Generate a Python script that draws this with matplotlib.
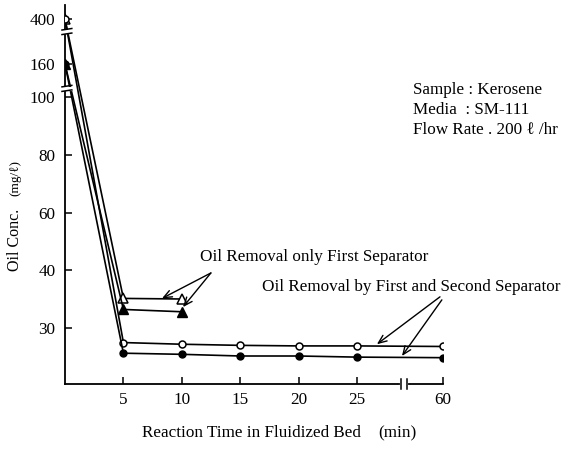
import matplotlib
matplotlib.use("Agg")
import matplotlib.pyplot as plt
import numpy as np

plt.rcParams["font.family"] = ["Liberation Serif", "DejaVu Serif", "DejaVu Sans"]

# reaction time (min)
time = [0, 5, 10, 15, 20, 25, 60]
time_first = [0, 5, 10]

# oil concentration (mg/l)
open_tri = [400, 35.1, 35.0]
solid_tri = [160, 33.2, 32.8]
open_circ = [400, 27.4, 27.1, 26.9, 26.8, 26.8, 26.7]
solid_circ = [160, 25.5, 25.3, 25.0, 25.0, 24.8, 24.7]

y_ticks = [30, 40, 60, 80, 100, 160, 400]
x_ticks = [5, 10, 15, 20, 25, 60]

# broken axes drawn as piecewise linear scales (knot -> pixel offset)
y_knots = [20, 30, 40, 60, 80, 100, 160, 400, 470]
y_pix = [0, 56, 114, 171, 229, 287, 320, 365, 379]
x_knots = [0, 25, 60]
x_pix = [0, 292, 378]


def piecewise(knots, pix):
    k = np.asarray(knots, float)
    p = np.asarray(pix, float)

    def make(a, b):
        def f(v):
            v = np.asarray(v, float)
            out = np.interp(v, a, b)
            out = np.where(v < a[0], b[0] + (v - a[0]) * (b[1] - b[0]) / (a[1] - a[0]), out)
            out = np.where(v > a[-1], b[-1] + (v - a[-1]) * (b[-1] - b[-2]) / (a[-1] - a[-2]), out)
            return out
        return f

    return make(k, p), make(p, k)


W, H = 566, 450
fs = 12.3
fig = plt.figure(figsize=(W / 100, H / 100), dpi=100)
ax = fig.add_axes([65 / W, (H - 384) / H, 378 / W, 379 / H])

ax.set_xscale("function", functions=piecewise(x_knots, x_pix))
ax.set_yscale("function", functions=piecewise(y_knots, y_pix))
ax.set_xlim(0, 60)
ax.set_ylim(20, 470)

lw = 1.2
ax.plot(time_first, open_tri, "-^", color="k", lw=lw, ms=6.5, mfc="white", mec="k", mew=1.1, zorder=3)
ax.plot(time_first, solid_tri, "-^", color="k", lw=lw, ms=6.5, mfc="k", mec="k", zorder=3)
ax.plot(time, open_circ, "-o", color="k", lw=lw, ms=5, mfc="white", mec="k", mew=1.1, zorder=4)
ax.plot(time, solid_circ, "-o", color="k", lw=lw, ms=5, mfc="k", mec="k", zorder=4)

for s in ["top", "right"]:
    ax.spines[s].set_visible(False)
for s in ["left", "bottom"]:
    ax.spines[s].set_linewidth(1.3)

ax.set_yticks(y_ticks)
ax.set_yticklabels([str(v) for v in y_ticks])
ax.set_xticks(x_ticks)
ax.set_xticklabels([str(v) for v in x_ticks])
ax.minorticks_off()
ax.tick_params(direction="in", length=5, width=1.1, labelsize=fs)
ax.tick_params(axis="y", pad=7)
ax.tick_params(axis="x", pad=6)

# break marks on the y axis
for fy in [0.934, 0.784]:
    ax.plot([-0.005, 0.012], [fy - 0.006, fy - 0.006], transform=ax.transAxes, color="white", lw=3, clip_on=False, zorder=5)
    ax.plot([-0.008, 0.018], [fy, fy + 0.004], transform=ax.transAxes, color="k", lw=1.1, clip_on=False, zorder=6)
    ax.plot([-0.008, 0.018], [fy - 0.012, fy - 0.008], transform=ax.transAxes, color="k", lw=1.1, clip_on=False, zorder=6)

# break mark on the x axis
ax.plot([0.891, 0.903], [0, 0], transform=ax.transAxes, color="white", lw=3, clip_on=False, zorder=5)
for fx in [0.889, 0.905]:
    ax.plot([fx, fx], [-0.012, 0.012], transform=ax.transAxes, color="k", lw=1.1, clip_on=False, zorder=6)

# axis labels
fig.text(15 / W, 1 - 240 / H, "Oil Conc.", rotation=90, ha="center", va="center", fontsize=11.5)
fig.text(15 / W, 1 - 178 / H, "(mg/ℓ)", rotation=90, ha="center", va="center", fontsize=9.5)
fig.text(251 / W, 1 - 433 / H, "Reaction Time in Fluidized Bed", ha="center", va="center", fontsize=fs)
fig.text(397 / W, 1 - 433 / H, "(min)", ha="center", va="center", fontsize=fs)

# experiment conditions
fig.text(413 / W, 1 - 90 / H, "Sample : Kerosene", ha="left", va="center", fontsize=fs)
fig.text(413 / W, 1 - 110 / H, "Media  : SM-111", ha="left", va="center", fontsize=fs)
fig.text(413 / W, 1 - 130 / H, "Flow Rate . 200 ℓ /hr", ha="left", va="center", fontsize=fs)

# series callouts
fig.text(200 / W, 1 - 257 / H, "Oil Removal only First Separator", ha="left", va="center", fontsize=fs)
fig.text(262 / W, 1 - 287 / H, "Oil Removal by First and Second Separator", ha="left", va="center", fontsize=fs)

arrow = dict(arrowstyle="->,head_length=0.6,head_width=0.25", color="k", lw=1.0, shrinkA=0, shrinkB=0)
ax.annotate("", xy=(8.3, 35.1), xytext=(0.386, 0.293), textcoords="axes fraction", arrowprops=arrow)
ax.annotate("", xy=(10.1, 33.6), xytext=(0.386, 0.293), textcoords="axes fraction", arrowprops=arrow)
ax.annotate("", xy=(33.1, 27.1), xytext=(0.992, 0.23), textcoords="axes fraction", arrowprops=arrow)
ax.annotate("", xy=(43.3, 25.0), xytext=(0.997, 0.222), textcoords="axes fraction", arrowprops=arrow)

fig.savefig("out.png", dpi=100)
